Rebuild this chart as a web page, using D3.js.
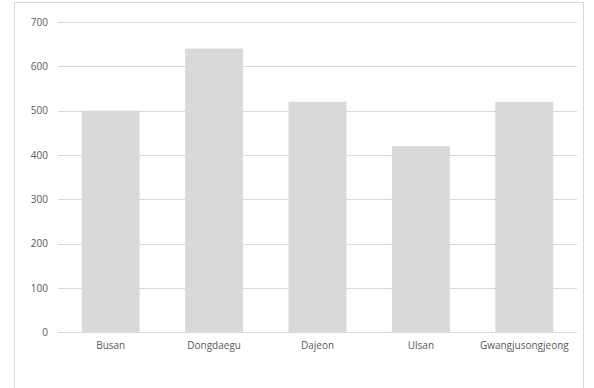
<!DOCTYPE html>
<html lang="en">
  <head>
    <meta charset="UTF-8" />
    <title>Chart</title>
    <script src="https://d3js.org/d3.v7.min.js"></script>
    <style>
      body { margin: 0; background: #fff; }
    </style>
  </head>
  <body>
    <div id="graph"></div>
    <script>
      const categories = ['Busan', 'Dongdaegu', 'Dajeon', 'Ulsan', 'Gwangjusongjeong']
      const values = [500, 640, 520, 420, 520]
      const yTicks = [0, 100, 200, 300, 400, 500, 600, 700]

      const width = 594
      const height = 388
      const svg = d3.select('#graph').append('svg').attr('width', width).attr('height', height)

      // chart area border
      svg.append('rect')
        .attr('x', 14.5).attr('y', 2.5)
        .attr('width', 569).attr('height', 390)
        .attr('fill', 'none').attr('stroke', '#d9d9d9')

      const plot = { left: 58, right: 577, top: 22, bottom: 332.3 }

      const xScale = d3.scaleBand()
        .domain(categories)
        .range([plot.left + 1, plot.right - 1])
        .paddingInner(0.44)
        .paddingOuter(0.22)
      const yScale = d3.scaleLinear().domain([0, 700]).range([plot.bottom, plot.top])

      // gridlines
      svg.append('g')
        .selectAll('line')
        .data(yTicks)
        .join('line')
        .attr('x1', plot.left).attr('x2', plot.right)
        .attr('y1', (d) => Math.round(yScale(d)) + 0.5)
        .attr('y2', (d) => Math.round(yScale(d)) + 0.5)
        .attr('stroke', '#d9d9d9')

      // bars
      svg.append('g')
        .selectAll('rect')
        .data(values)
        .join('rect')
        .attr('x', (_, i) => xScale(categories[i]))
        .attr('y', (d) => yScale(d))
        .attr('width', xScale.bandwidth())
        .attr('height', (d) => plot.bottom - yScale(d))
        .attr('fill', '#d9d9d9')

      // y axis labels
      const yAxis = d3.axisLeft(yScale).tickValues(yTicks).tickSize(0).tickPadding(10)
      const gy = svg.append('g').attr('transform', `translate(${plot.left},0)`).call(yAxis)
      gy.select('.domain').remove()
      gy.selectAll('text').attr('fill', '#595959').attr('font-size', '10px').attr('font-family', 'Open Sans, sans-serif')

      // x axis labels
      const xAxis = d3.axisBottom(xScale).tickSize(0).tickPadding(10)
      const gx = svg.append('g').attr('transform', `translate(0,${plot.bottom})`).call(xAxis)
      gx.select('.domain').remove()
      gx.selectAll('text').attr('fill', '#595959').attr('font-size', '10px').attr('font-family', 'Open Sans, sans-serif')
    </script>
  </body>
</html>
